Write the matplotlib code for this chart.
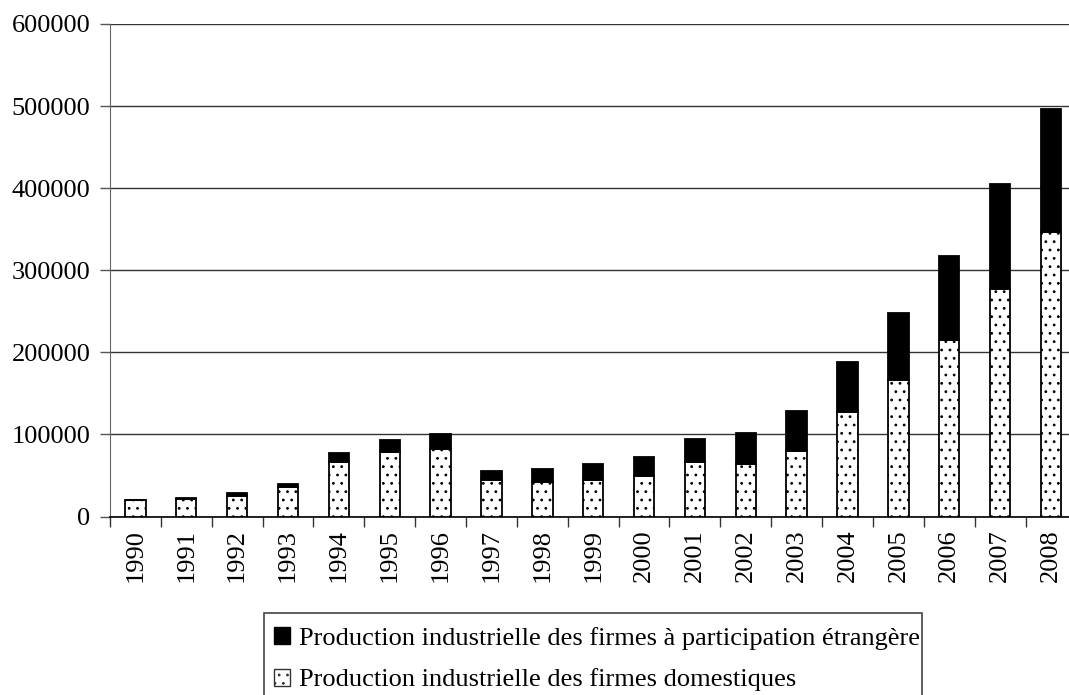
import matplotlib
matplotlib.use("Agg")
import matplotlib.pyplot as plt
import numpy as np
from matplotlib.patches import Patch, Rectangle

plt.rcParams['font.family'] = ['Liberation Serif', 'DejaVu Serif']
plt.rcParams['hatch.linewidth'] = 0.8
plt.rcParams['hatch.color'] = '#333333'

years = ['1990', '1991', '1992', '1993', '1994', '1995', '1996', '1997', '1998', '1999',
         '2000', '2001', '2002', '2003', '2004', '2005', '2006', '2007', '2008']
domestic = [19500, 21800, 24600, 35600, 66800, 78200, 82200, 44500, 42400, 44500,
            49300, 66800, 64300, 80100, 126900, 166600, 215300, 277100, 346000]
totals = [19900, 22300, 28600, 39600, 77700, 92800, 100100, 55400, 57500, 64300,
          72800, 94800, 101700, 128500, 188200, 248200, 316900, 405400, 496000]
foreign = [t - d for t, d in zip(totals, domestic)]

label_foreign = "Production industrielle des firmes à participation étrangère"
label_domestic = "Production industrielle des firmes domestiques"

W, H = 1069, 695
fig = plt.figure(figsize=(W / 100, H / 100), dpi=100)
ax = fig.add_axes([110 / W, 1 - 516.5 / H, (1076.4 - 110) / W, (516.5 - 24) / H])

x = np.arange(len(years))
bw = 0.4
ax.bar(x, domestic, bw, color='white', edgecolor='black', linewidth=1.3, hatch='..', zorder=3)
ax.bar(x, foreign, bw, bottom=domestic, color='black', edgecolor='black', linewidth=1.3, zorder=3)

ax.set_xlim(-0.5, len(years) - 0.5)
ax.set_ylim(0, 600000)
ax.set_yticks(np.arange(0, 600001, 100000))
ax.set_yticklabels([str(v) for v in range(0, 600001, 100000)], fontsize=19)
ax.yaxis.grid(True, color='#333333', linewidth=1.0, zorder=0)
ax.set_axisbelow(True)

ax.set_xticks(np.arange(-0.5, len(years), 1.0))
ax.set_xticklabels([])
ax.set_xticks(x, minor=True)
ax.set_xticklabels(years, minor=True, rotation=90, fontsize=19)
ax.tick_params(axis='x', which='major', length=7.2, width=1, color='#333333', direction='out')
ax.tick_params(axis='x', which='minor', length=0, pad=9)
ax.tick_params(axis='y', length=7.2, width=1, color='#555555', pad=7)

for s in ['top', 'right']:
    ax.spines[s].set_visible(False)
ax.spines['left'].set_color('#666666')
ax.spines['bottom'].set_color('black')
ax.spines['bottom'].set_linewidth(1.2)

handles = [Patch(facecolor='black', edgecolor='black', label=label_foreign),
           Patch(facecolor='white', edgecolor='#333333', hatch='..', label=label_domestic)]
leg = fig.legend(handles=handles, loc='upper left', bbox_to_anchor=(274 / W, 1 - 627 / H),
                 fontsize=19, frameon=False,
                 handlelength=0.6, handleheight=0.6, handletextpad=0.35,
                 borderpad=0, labelspacing=0.70, borderaxespad=0)

frame = Rectangle((264 / W, -0.05), (922 - 264) / W, (1 - 613 / H) + 0.05,
                  transform=fig.transFigure, facecolor='none', edgecolor='#444444',
                  linewidth=1.2)
fig.patches.append(frame)

fig.savefig('out.png', dpi=100)
